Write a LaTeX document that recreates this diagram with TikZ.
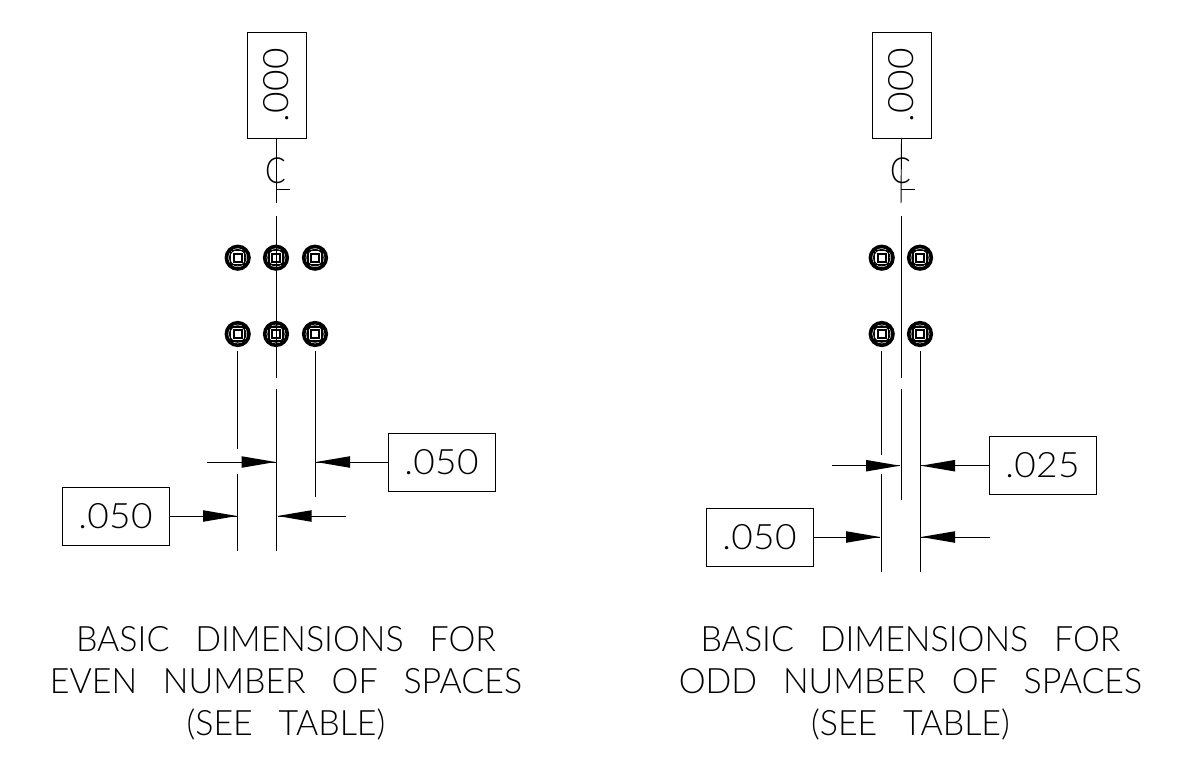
\documentclass[tikz,border=0pt]{standalone}
\usepackage{fontspec}
\setmainfont{Lato Light}
\newfontfamily\capfont[WordSpace=2.8,FakeStretch=0.97]{Lato Light}
\newfontfamily\digfont[LetterSpace=1,FakeStretch=1.06]{Lato Light}
\newfontfamily\clfont[FakeStretch=0.85]{Lato Light}
\begin{document}
\begin{tikzpicture}[x=1pt,y=-1pt,line cap=butt,
  ln/.style={line width=0.95pt,black},
  dimbox/.style={draw=black,line width=0.95pt,minimum width=107pt,minimum height=58pt,inner sep=0pt,font=\fontsize{35}{35}\selectfont\digfont},
  vbox/.style={draw=black,line width=0.95pt,minimum width=59pt,minimum height=106pt,inner sep=0pt},
  vtxt/.style={rotate=90,font=\fontsize{35}{35}\selectfont\digfont,inner sep=0pt},
  cltxt/.style={font=\fontsize{36}{36}\selectfont\clfont,inner sep=0pt},
  capt/.style={align=center,font=\fontsize{35}{42}\selectfont\capfont}]
\useasboundingbox (0,0) rectangle (1177,765);
\newcommand{\viaat}[2]{%
  \draw[line width=3.6pt] (#1,#2) circle (11.3);
  \draw[line width=1.1pt] (#1,#2) circle (8.2);
  \draw[line width=1.3pt] (#1-7,#2-7) rectangle (#1+7,#2+7);
  \draw[line width=1.8pt] (#1-4,#2-4) rectangle (#1+4,#2+4);
}
\newcommand{\dimhead}[3]{\fill (#1,#2) -- (#1+#3,#2-5.8) -- (#1+#3,#2+5.8) -- cycle;}
% LEFT
\node[vbox] (lb) at (276.5,85) {};
\node[vtxt] at (276.5,85) {.000};
\coordinate (lc1) at (276.5,203);
\draw[ln] (lb.south) -- (lc1);
\node[cltxt] (lcl) at (275.5,171) {C};
\coordinate (lc2) at (290,189);
\coordinate (lc3) at (276.5,189);
\draw[ln] (lc3) -- (lc2);
\foreach \x in {237.7,276,315}{\foreach \y in {257.7,334}{\viaat{\x}{\y}}}
\draw[ln] (276.5,216) -- (276.5,378);
\draw[ln] (276.5,389) -- (276.5,551);
\draw[ln] (237.7,351) -- (237.7,449);
\draw[ln] (237.7,474) -- (237.7,551);
\draw[ln] (315,351) -- (315,497);
\node[dimbox] (la) at (441.5,462.5) {.050};
\node[dimbox] (lbb) at (115.5,516) {.050};
\coordinate (la1) at (207,462);
\coordinate (la2) at (275.5,462);
\draw[ln] (la1) -- (la2); \dimhead{275.5}{462}{-34}
\coordinate (la3) at (316,462);
\draw[ln] (la.west|-la3) -- (la3); \dimhead{316}{462}{34}
\coordinate (la4) at (237,516);
\draw[ln] (lbb.east|-la4) -- (la4); \dimhead{237}{516}{-34}
\coordinate (la5) at (277.5,516);
\coordinate (la6) at (346,516);
\draw[ln] (la6) -- (la5); \dimhead{277.5}{516}{34}
\node[capt] (lt) at (286,683) {BASIC DIMENSIONS FOR\\EVEN NUMBER OF SPACES\\(SEE TABLE)};
% RIGHT
\node[vbox] (rb) at (901.5,85) {};
\node[vtxt] at (901.5,85) {.000};
\coordinate (rc1) at (901,203);
\draw[ln] (rb.south) -- (rc1);
\node[cltxt] (rcl) at (900.5,171) {C};
\coordinate (rc2) at (915,189);
\coordinate (rc3) at (901,189);
\draw[ln] (rc3) -- (rc2);
\foreach \x in {881.7,920}{\foreach \y in {257.7,334}{\viaat{\x}{\y}}}
\draw[ln] (901,216) -- (901,378);
\draw[ln] (901,389) -- (901,500);
\draw[ln] (881.7,351) -- (881.7,455);
\draw[ln] (881.7,474) -- (881.7,572);
\draw[ln] (920,351) -- (920,572);
\node[dimbox] (ra) at (1042.5,465.5) {.025};
\node[dimbox] (rbb) at (759.5,537.5) {.050};
\coordinate (ra1) at (832,465.7);
\coordinate (ra2) at (900,465.7);
\draw[ln] (ra1) -- (ra2); \dimhead{900}{465.7}{-34}
\coordinate (ra3) at (921,465.7);
\draw[ln] (ra.west|-ra3) -- (ra3); \dimhead{921}{465.7}{34}
\coordinate (ra4) at (880,537);
\draw[ln] (rbb.east|-ra4) -- (ra4); \dimhead{880}{537}{-34}
\coordinate (ra5) at (921,537);
\coordinate (ra6) at (990,537);
\draw[ln] (ra6) -- (ra5); \dimhead{921}{537}{34}
\node[capt] (rt) at (910.5,683) {BASIC DIMENSIONS FOR\\ODD NUMBER OF SPACES\\(SEE TABLE)};
\end{tikzpicture}
\end{document}
